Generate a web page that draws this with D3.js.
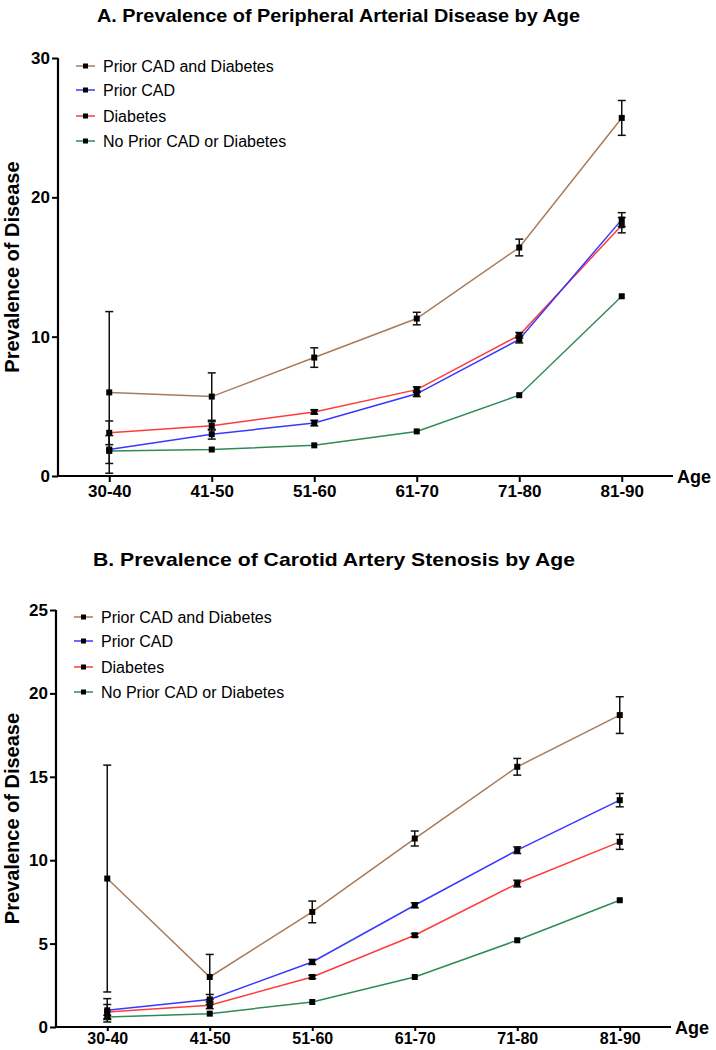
<!DOCTYPE html>
<html>
<head>
<meta charset="utf-8">
<script src="https://cdn.jsdelivr.net/npm/d3@7"></script>
<style>
html,body{margin:0;padding:0;background:#fff;}
svg{display:block;font-family:"Liberation Sans",Arial,sans-serif;}
</style>
</head>
<body>
<svg id="chart" width="716" height="1050"></svg>
<script>
// ---------- data ----------
const ageGroups = ["30-40", "41-50", "51-60", "61-70", "71-80", "81-90"];
const seriesNames = ["Prior CAD and Diabetes", "Prior CAD", "Diabetes", "No Prior CAD or Diabetes"];
const seriesColors = ["#a87b5a", "#3838ff", "#ff3b3b", "#2e8b57"];

// Panel A: Peripheral Arterial Disease
const padBoth = [6.0, 5.7, 8.5, 11.3, 16.4, 25.7];
const padBothErr = [5.8, 1.7, 0.7, 0.45, 0.6, 1.25];
const padCad = [1.9, 3.0, 3.8, 5.9, 9.8, 18.4];
const padCadErr = [1.0, 0.35, 0.2, 0.2, 0.25, 0.5];
const padDm = [3.1, 3.6, 4.6, 6.2, 10.1, 18.0];
const padDmErr = [0.85, 0.3, 0.15, 0.2, 0.2, 0.55];
const padNone = [1.8, 1.9, 2.2, 3.2, 5.8, 12.9];
const padNoneErr = [0.1, 0.1, 0.1, 0.05, 0.05, 0.1];
const padTicks = [0, 10, 20, 30];

// Panel B: Carotid Artery Stenosis
const casBoth = [8.9, 3.0, 6.9, 11.3, 15.6, 18.7];
const casBothErr = [6.8, 1.35, 0.65, 0.45, 0.5, 1.1];
const casCad = [1.0, 1.65, 3.9, 7.3, 10.6, 13.6];
const casCadErr = [0.7, 0.3, 0.15, 0.15, 0.2, 0.4];
const casDm = [0.9, 1.3, 3.0, 5.5, 8.6, 11.1];
const casDmErr = [0.45, 0.2, 0.1, 0.1, 0.2, 0.45];
const casNone = [0.6, 0.8, 1.5, 3.0, 5.2, 7.6];
const casNoneErr = [0.1, 0.05, 0.05, 0.05, 0.05, 0.05];
const casTicks = [0, 5, 10, 15, 20, 25];

const panels = [
  {
    title: "A. Prevalence of Peripheral Arterial Disease by Age",
    titleX: 97, titleY: 22, titleLen: 483,
    left: 58, right: 673, top: 58, bottom: 476, yMax: 30,
    ticks: padTicks, xTick: 6, xPad: 3, xFont: 17,
    values: [padBoth, padCad, padDm, padNone],
    errors: [padBothErr, padCadErr, padDmErr, padNoneErr],
    legendX: 76, legendY: [66, 90, 116, 141]
  },
  {
    title: "B. Prevalence of Carotid Artery Stenosis by Age",
    titleX: 93, titleY: 566, titleLen: 482,
    left: 56, right: 671, top: 610, bottom: 1027, yMax: 25,
    ticks: casTicks, xTick: 4, xPad: 2, xFont: 16,
    values: [casBoth, casCad, casDm, casNone],
    errors: [casBothErr, casCadErr, casDmErr, casNoneErr],
    legendX: 74, legendY: [617, 641, 667, 692]
  }
];

const svg = d3.select("#chart");

panels.forEach(p => {
  const g = svg.append("g");
  const x = d3.scalePoint().domain(ageGroups).range([p.left, p.right]).padding(0.5);
  const y = d3.scaleLinear().domain([0, p.yMax]).range([p.bottom, p.top]);

  // title
  g.append("text")
    .attr("x", p.titleX).attr("y", p.titleY)
    .attr("font-size", 19).attr("font-weight", "bold")
    .attr("textLength", p.titleLen).attr("lengthAdjust", "spacingAndGlyphs")
    .text(p.title);

  // y axis
  const yAxis = g.append("g")
    .attr("transform", `translate(${p.left},0)`)
    .call(d3.axisLeft(y).tickValues(p.ticks).tickSize(6).tickPadding(2).tickFormat(d3.format("d")));
  yAxis.select(".domain").attr("stroke-width", 2.2).attr("d", `M0,${p.top}V${p.bottom}`);
  yAxis.selectAll(".tick line").attr("stroke-width", 2);
  yAxis.selectAll(".tick text").attr("font-size", 17).attr("font-weight", "bold")
    .attr("font-family", "Liberation Sans, Arial, sans-serif").attr("fill", "#000");

  // x axis
  const xAxis = g.append("g")
    .attr("transform", `translate(0,${p.bottom})`)
    .call(d3.axisBottom(x).tickSize(p.xTick).tickPadding(p.xPad));
  xAxis.select(".domain").attr("stroke-width", 2.2).attr("d", `M${p.left},0H${p.right}`);
  xAxis.selectAll(".tick line").attr("stroke-width", 2);
  xAxis.selectAll(".tick text").attr("font-size", p.xFont).attr("font-weight", "bold")
    .attr("font-family", "Liberation Sans, Arial, sans-serif").attr("fill", "#000");

  g.append("text")
    .attr("x", p.right + 4).attr("y", p.bottom + 7)
    .attr("font-size", 18).attr("font-weight", "bold")
    .text("Age");

  // y label, centred on the plot
  g.append("text")
    .attr("transform", `translate(19,${(p.top + p.bottom) / 2}) rotate(-90)`)
    .attr("text-anchor", "middle")
    .attr("font-size", 20).attr("font-weight", "bold")
    .text("Prevalence of Disease");

  // series lines (drawn bottom-up so brown is on top)
  const line = d3.line().x((d, i) => x(ageGroups[i])).y(d => y(d));
  const order = [3, 2, 1, 0];
  order.forEach(s => {
    g.append("path")
      .attr("d", line(p.values[s]))
      .attr("fill", "none")
      .attr("stroke", seriesColors[s])
      .attr("stroke-width", 1.5);
  });

  // error bars and markers
  order.forEach(s => {
    const vals = p.values[s], errs = p.errors[s];
    const eg = g.append("g");
    vals.forEach((v, i) => {
      const cx = x(ageGroups[i]);
      const lo = Math.max(0, v - errs[i]), hi = v + errs[i];
      const y1 = y(hi), y0 = y(lo);
      if (Math.abs(y0 - y1) > 3) {
        eg.append("line").attr("x1", cx).attr("x2", cx).attr("y1", y1).attr("y2", y0)
          .attr("stroke", "#111").attr("stroke-width", 1.5);
        [y1, y0].forEach(yy => {
          eg.append("line").attr("x1", cx - 4).attr("x2", cx + 4).attr("y1", yy).attr("y2", yy)
            .attr("stroke", "#111").attr("stroke-width", 1.5);
        });
      }
      eg.append("rect").attr("x", cx - 3).attr("y", y(v) - 3)
        .attr("width", 6).attr("height", 6).attr("fill", "#000");
    });
  });

  // legend
  seriesNames.forEach((name, s) => {
    const ly = p.legendY[s];
    g.append("line").attr("x1", p.legendX).attr("x2", p.legendX + 19)
      .attr("y1", ly).attr("y2", ly)
      .attr("stroke", seriesColors[s]).attr("stroke-width", 1.5);
    g.append("rect").attr("x", p.legendX + 7).attr("y", ly - 2.5)
      .attr("width", 5).attr("height", 5).attr("fill", "#000");
    g.append("text").attr("x", p.legendX + 27).attr("y", ly + 6)
      .attr("font-size", 16).text(name);
  });
});
</script>
</body>
</html>
